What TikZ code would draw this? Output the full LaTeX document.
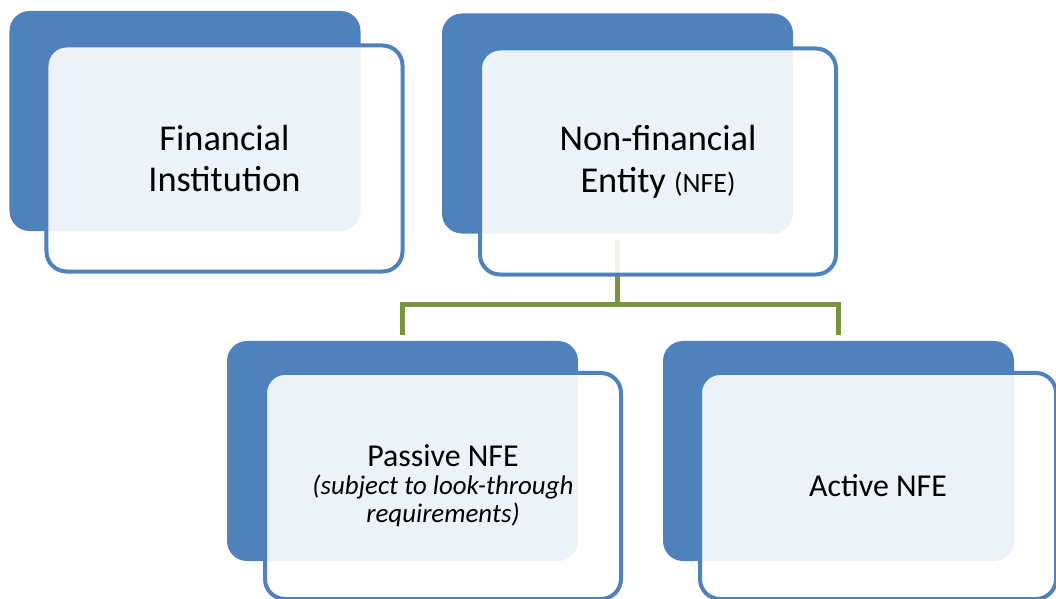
\documentclass[tikz,border=0pt]{standalone}
\usepackage{fontspec}
\setmainfont{Carlito}
\definecolor{boxblue}{HTML}{4F81BD}
\definecolor{linkgreen}{HTML}{77933C}
\tikzset{
  backbox/.style={draw=none,fill=boxblue,rounded corners=20bp,
    minimum width=351bp,minimum height=220bp,inner sep=0pt},
  frontbox/.style={draw=boxblue,line width=4bp,fill=white,fill opacity=0.9,
    text opacity=1,rounded corners=20bp,minimum width=356bp,
    minimum height=226bp,inner sep=0pt,align=center,
    font=\fontsize{36.5}{42}\selectfont},
  link/.style={draw=linkgreen,line width=5bp,shorten <=6bp,shorten >=6bp},
}
\begin{document}
\begin{tikzpicture}[x=1bp,y=-1bp]
\useasboundingbox (0,0) rectangle (1056,599);
%%
\node (fi_back) at (185,121) [backbox] {};
  \node (nfe_back) at (617.5,123.5) [backbox] {};
  \node (passive_back) at (402.5,451) [backbox] {};
  \node (active_back) at (838.5,451) [backbox] {};
  \draw [link] (nfe_back.south) -- ++(0,70.5) -| (passive_back.north);
  \draw [link] (nfe_back.south) -- ++(0,70.5) -| (active_back.north);
  \node (fi) at (224.5,158.5) [frontbox] {Financial\\Institution};
  \node (nfe) at (658,161.5) [frontbox] {Non-financial\\Entity {\fontsize{28}{29}\selectfont(NFE)}};
  \node (passive) at (443,486) [frontbox,font=\fontsize{27}{28}\selectfont] {{\fontsize{32}{33}\selectfont Passive NFE}\\{\itshape (subject to look-through}\\{\itshape requirements)}};
  \node (active) at (878,486) [frontbox,font=\fontsize{32}{36}\selectfont] {Active NFE};
%
\end{tikzpicture}
\end{document}
